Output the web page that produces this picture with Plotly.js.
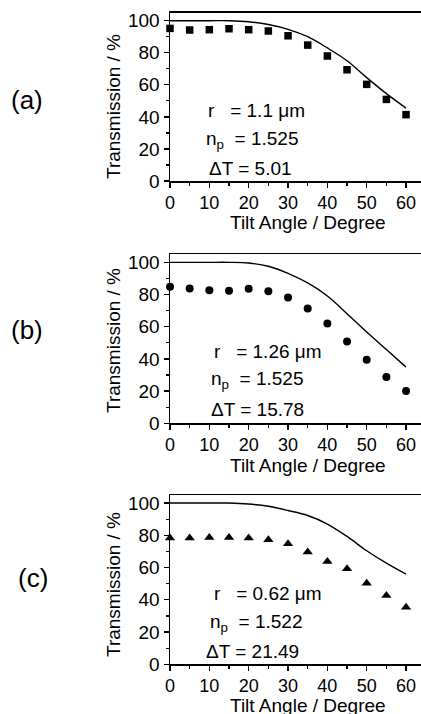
<!DOCTYPE html>
<html>
<head>
<meta charset="utf-8">
<script src="https://cdn.plot.ly/plotly-3.0.1.min.js"></script>
<style>html,body{margin:0;padding:0;background:#fff;}#chart{width:421px;height:714px;}</style>
</head>
<body>
<div id="chart"></div>
<script>
// ---- data ----
const tiltAngle = [0, 5, 10, 15, 20, 25, 30, 35, 40, 45, 50, 55, 60];

const measuredA = [95.2, 94.2, 94.4, 95.0, 94.4, 93.6, 90.6, 84.8, 78.0, 69.4, 60.3, 50.9, 41.4];
const theoryA   = [100, 100, 100, 100, 99.4, 97.6, 94.6, 90.0, 83.0, 75.0, 64.5, 54.5, 45.5];

const measuredB = [84.8, 83.8, 82.7, 82.3, 83.6, 82.1, 78.2, 71.3, 62.0, 50.9, 39.5, 28.7, 20.0];
const theoryB   = [100, 100, 100, 100, 99.6, 97.6, 93.2, 87.2, 79.1, 68.1, 56.7, 45.8, 34.9];

const measuredC = [78.3, 78.3, 78.7, 78.7, 78.3, 77.2, 74.7, 69.6, 63.8, 59.2, 50.3, 42.7, 35.4];
const theoryC   = [100, 100, 100, 100, 99.4, 98.0, 95.4, 92.3, 87.0, 79.3, 70.4, 62.7, 55.9];

const panelLabels = ["(a)", "(b)", "(c)"];
const rText  = ["r\u00a0\u00a0\u00a0= 1.1 \u03bcm", "r\u00a0\u00a0\u00a0= 1.26 \u03bcm", "r\u00a0\u00a0\u00a0= 0.62 \u03bcm"];
const npText = ["n<sub>p</sub>\u00a0\u00a0= 1.525", "n<sub>p</sub>\u00a0\u00a0= 1.525", "n<sub>p</sub>\u00a0\u00a0= 1.522"];
const dtText = ["\u0394T = 5.01", "\u0394T = 15.78", "\u0394T = 21.49"];
const xTitle = "Tilt Angle / Degree";
const yTitle = "Transmission / %";

// ---- layout helpers ----
const W = 421, H = 714;
const X = px => px / W;
const Y = py => 1 - py / H;
const FONT = "Liberation Sans, Arial, sans-serif";

const measured = [measuredA, measuredB, measuredC];
const theory = [theoryA, theoryB, theoryC];
const symbols = ["square", "circle", "triangle-up"];
const msizes = [7.5, 8, 9];
// pixel frames: [top, bottom]
const frames = [[12.7, 181], [254.3, 423.3], [495, 664.3]];

const traces = [];
const layout = {
  width: W, height: H,
  margin: {l: 0, r: 0, t: 0, b: 0},
  paper_bgcolor: "#fff", plot_bgcolor: "#fff",
  showlegend: false,
  font: {family: FONT, color: "#000", size: 19},
  annotations: []
};

for (let i = 0; i < 3; i++) {
  const s = i === 0 ? "" : String(i + 1);
  traces.push({
    x: tiltAngle, y: theory[i], xaxis: "x" + s, yaxis: "y" + s,
    mode: "lines", line: {color: "#000", width: 1.4, shape: "spline", smoothing: 1},
    hoverinfo: "skip"
  });
  traces.push({
    x: tiltAngle, y: measured[i], xaxis: "x" + s, yaxis: "y" + s,
    mode: "markers", cliponaxis: false,
    marker: {symbol: symbols[i], size: msizes[i], color: "#000", line: {width: 0}}
  });
  const [top, bot] = frames[i];
  layout["xaxis" + s] = {
    domain: [X(170), 1], anchor: "y" + s,
    range: [0, 63.8], tickmode: "linear", tick0: 0, dtick: 10,
    ticks: "outside", ticklen: 5, tickwidth: 1.3, tickcolor: "#000",
    minor: {tickmode: "linear", tick0: 0, dtick: 5, ticks: "outside", ticklen: 3, tickwidth: 1.2, tickcolor: "#000"},
    showline: true, linecolor: "#000", linewidth: 1.5, mirror: true,
    showgrid: false, zeroline: false,
    tickfont: {family: FONT, size: 18, color: "#000"}
  };
  layout["yaxis" + s] = {
    domain: [Y(bot), Y(top)], anchor: "x" + s,
    range: [0, 105], tickmode: "linear", tick0: 0, dtick: 20,
    ticks: "outside", ticklen: 5, tickwidth: 1.3, tickcolor: "#000",
    minor: {tickmode: "linear", tick0: 0, dtick: 10, ticks: "outside", ticklen: 3, tickwidth: 1.2, tickcolor: "#000"},
    showline: true, linecolor: "#000", linewidth: 1.5, mirror: false,
    showgrid: false, zeroline: false,
    tickfont: {family: FONT, size: 19, color: "#000"}
  };
}

const labelPos = [[27.5, 100], [27, 330], [33, 578]];
const yTitlePos = [107, 341, 585];
const xTitlePos = [222.5, 465, 705.5];
const rPos  = [[206, 110.7], [212, 351.7], [212, 593.3]];
const npPos = [[204, 140], [209, 380], [208, 622.5]];
const dtPos = [[207, 168.7], [209, 410], [204, 651]];

function ann(text, px, py, opts) {
  return Object.assign({
    text: text, x: X(px), y: Y(py), xref: "paper", yref: "paper",
    showarrow: false, xanchor: "center", yanchor: "middle",
    font: {family: FONT, size: 19, color: "#000"}
  }, opts || {});
}

for (let i = 0; i < 3; i++) {
  layout.annotations.push(ann(panelLabels[i], labelPos[i][0], labelPos[i][1], {font: {family: FONT, size: 26, color: "#000"}}));
  layout.annotations.push(ann(yTitle, 113, yTitlePos[i], {textangle: -90}));
  layout.annotations.push(ann(xTitle, 307.5, xTitlePos[i]));
  layout.annotations.push(ann(rText[i], rPos[i][0], rPos[i][1], {xanchor: "left", font: {family: FONT, size: 19, color: "#000"}}));
  layout.annotations.push(ann(npText[i], npPos[i][0], npPos[i][1], {xanchor: "left", font: {family: FONT, size: 19, color: "#000"}}));
  layout.annotations.push(ann(dtText[i], dtPos[i][0], dtPos[i][1], {xanchor: "left", font: {family: FONT, size: 19, color: "#000"}}));
}

Plotly.newPlot("chart", traces, layout, {staticPlot: true, displayModeBar: false});
</script>
</body>
</html>
